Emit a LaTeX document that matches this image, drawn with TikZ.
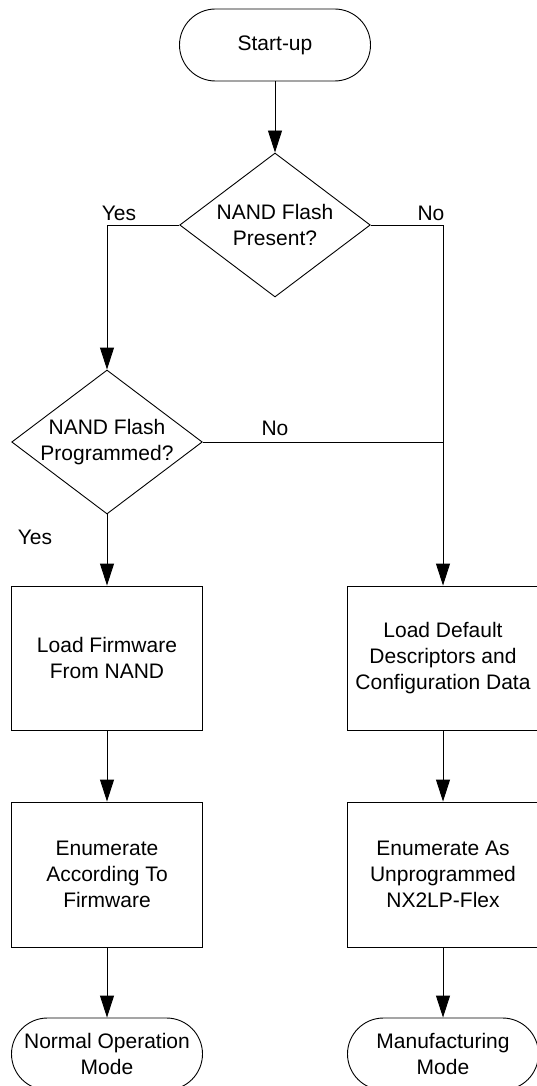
\documentclass[tikz,border=0pt]{standalone}
\usepackage{fontspec}
\setmainfont{Liberation Sans}
\usetikzlibrary{arrows.meta,shapes.geometric}
\begin{document}
\begin{tikzpicture}[x=1pt,y=-1pt,
  line width=0.9pt,
  every node/.style={font=\fontsize{21}{25.7}\selectfont, align=center, inner sep=0pt},
  term/.style={draw, rectangle, rounded corners=36pt, minimum width=191pt, minimum height=72pt},
  dia/.style={draw, diamond, minimum width=190.6pt, minimum height=144pt},
  procbox/.style={draw, rectangle, minimum width=190.6pt, minimum height=144pt},
  arr/.style={-{Triangle[length=22pt,width=14pt]}}]
\useasboundingbox (0,0) rectangle (537,1086);
% nodes
\node[term] (s) at (275,45) {};
\node (st) at (s) {Start-up};
\node[dia] (d1) at (275,225) {};
\node (d1t) at (d1) {NAND Flash\\Present?};
\node[dia] (d2) at (107,442) {};
\node (d2t) at (d2) {NAND Flash\\Programmed?};
\node[procbox] (b1) at (107,658) {Load Firmware\\From NAND};
\node[procbox] (b2) at (443,658) {Load Default\\Descriptors and\\Configuration Data};
\node[procbox, minimum height=145pt] (b3) at (107,874.5) {Enumerate\\According To\\Firmware};
\node[procbox, minimum height=145pt] (b4) at (443,874.5) {Enumerate As\\Unprogrammed\\NX2LP-Flex};
\node[term] (t1) at (107,1054) {};
\node (t1t) at (t1) {Normal Operation\\Mode};
\node[term] (t2) at (443,1054) {};
\node (t2t) at (t2) {Manufacturing\\Mode};
% corners
\coordinate (c1) at (d2 |- d1);
\coordinate (c2) at (b2 |- d1);
\coordinate (c3) at (b2 |- d2);
% connectors
\draw[arr] (s.south) -- (d1.north);
\draw[arr] (d1.west) -- (c1) -- (d2.north);
\draw[arr] (d1.east) -- (c2) -- (b2.north);
\draw (d2.east) -- (c3);
\draw[arr] (d2.south) -- (b1.north);
\draw[arr] (b1.south) -- (b3.north);
\draw[arr] (b3.south) -- (t1.north);
\draw[arr] (b2.south) -- (b4.north);
\draw[arr] (b4.south) -- (t2.north);
% labels
\node (l1) at (119,213) {Yes};
\node (l2) at (431,213) {No};
\node (l3) at (275,428) {No};
\node (l4) at (35,537) {Yes};
\end{tikzpicture}
\end{document}
